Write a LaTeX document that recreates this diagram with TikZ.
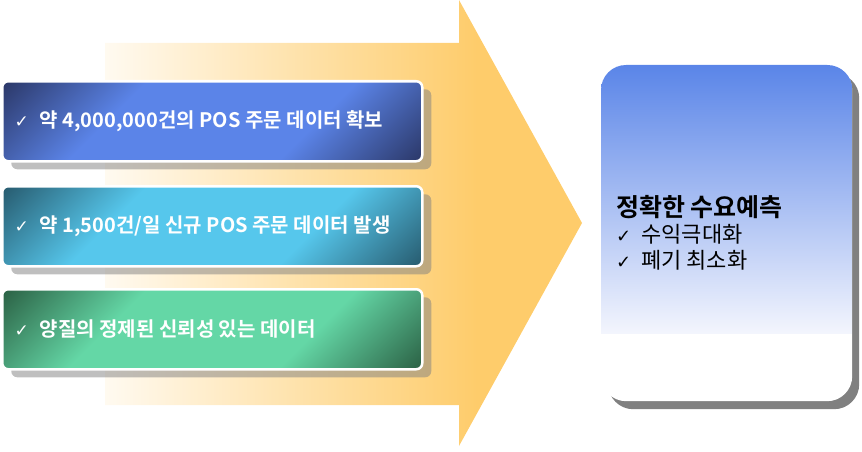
\documentclass[tikz,border=0pt]{standalone}
\usepackage{fontspec}
\setmainfont{Noto Sans CJK KR}[BoldFont={Noto Sans CJK KR Bold}]
\newfontfamily\checkfont{DejaVu Sans}
\usetikzlibrary{shadows}

\definecolor{arroworange}{HTML}{FECC6B}
\definecolor{navydark}{HTML}{2C396A}
\definecolor{navylight}{HTML}{5B84E8}
\definecolor{tealdark}{HTML}{285D71}
\definecolor{teallight}{HTML}{56C7EC}
\definecolor{mintdark}{HTML}{2C6346}
\definecolor{mintlight}{HTML}{64D7A6}
\definecolor{cardblue}{HTML}{5A85E8}
\definecolor{cardpale}{HTML}{F3F5FD}

\pgfdeclarehorizontalshading{arrowfade}{100bp}{color(0bp)=(white); color(25bp)=(arroworange!10); color(64bp)=(arroworange); color(100bp)=(arroworange)}
\pgfdeclarehorizontalshading{navyband}{100bp}{color(0bp)=(navydark); color(15bp)=(navydark); color(35bp)=(navylight); color(65bp)=(navylight); color(85bp)=(navydark); color(100bp)=(navydark)}
\pgfdeclarehorizontalshading{tealband}{100bp}{color(0bp)=(tealdark); color(15bp)=(tealdark); color(35bp)=(teallight); color(65bp)=(teallight); color(85bp)=(tealdark); color(100bp)=(tealdark)}
\pgfdeclarehorizontalshading{mintband}{100bp}{color(0bp)=(mintdark); color(15bp)=(mintdark); color(35bp)=(mintlight); color(65bp)=(mintlight); color(85bp)=(mintdark); color(100bp)=(mintdark)}

\begin{document}
\begin{tikzpicture}[x=1pt,y=-1pt,
  databox/.style={rounded corners=6pt, draw=white, line width=2.5pt, shading angle=-45,
    minimum width=420pt, minimum height=80pt, anchor=north west, inner sep=0pt,
    drop shadow={shadow xshift=9pt, shadow yshift=-8pt, fill=gray, opacity=0.5}},
  datatext/.style={anchor=west, text=white, font=\fontsize{20}{24}\selectfont\bfseries},
  card/.style={rounded corners=25pt, fill=white, minimum width=251pt, minimum height=336pt,
    anchor=north west, inner sep=0pt,
    drop shadow={shadow xshift=7pt, shadow yshift=-8pt, fill=gray, opacity=1}},
  cardtext/.style={anchor=west, align=left, inner sep=0pt, font=\fontsize{22}{26}\selectfont}]
\useasboundingbox (0,0) rectangle (862,452);

% big arrow behind the boxes
\shade[shading=arrowfade] (105,43) -- (459,43) -- (459,0) -- (582,223) -- (459,446) -- (459,405) -- (105,405) -- cycle;

\node[databox, shading=navyband] (box1) at (1,80) {};
\node[databox, shading=tealband] (box2) at (1,185) {};
\node[databox, shading=mintband] (box3) at (1,288) {};

\node[datatext] (text1) at ([xshift=10pt]box1.west) {{\checkfont\mdseries\fontsize{17}{17}\selectfont ✓}\hspace{11pt}약 4,000,000건의 POS 주문 데이터 확보};
\node[datatext] (text2) at ([xshift=10pt]box2.west) {{\checkfont\mdseries\fontsize{17}{17}\selectfont ✓}\hspace{11pt}약 1,500건/일 신규 POS 주문 데이터 발생};
\node[datatext] (text3) at ([xshift=10pt]box3.west) {{\checkfont\mdseries\fontsize{17}{17}\selectfont ✓}\hspace{11pt}양질의 정제된 신뢰성 있는 데이터};

% result card
\node[card] (card) at (601,65) {};
\begin{scope}
\clip[rounded corners=25pt] (card.north west) rectangle (card.south east);
\shade[top color=cardblue, bottom color=cardpale] (card.north west) rectangle ([yshift=-268pt]card.north east);
\end{scope}

\node[cardtext] (goal) at (616,233) {{\bfseries\fontsize{25}{26}\selectfont 정확한 수요예측}\\
  {\checkfont\fontsize{18}{18}\selectfont ✓}\hspace{10pt}수익극대화\\
  {\checkfont\fontsize{18}{18}\selectfont ✓}\hspace{10pt}폐기 최소화};
\end{tikzpicture}
\end{document}
